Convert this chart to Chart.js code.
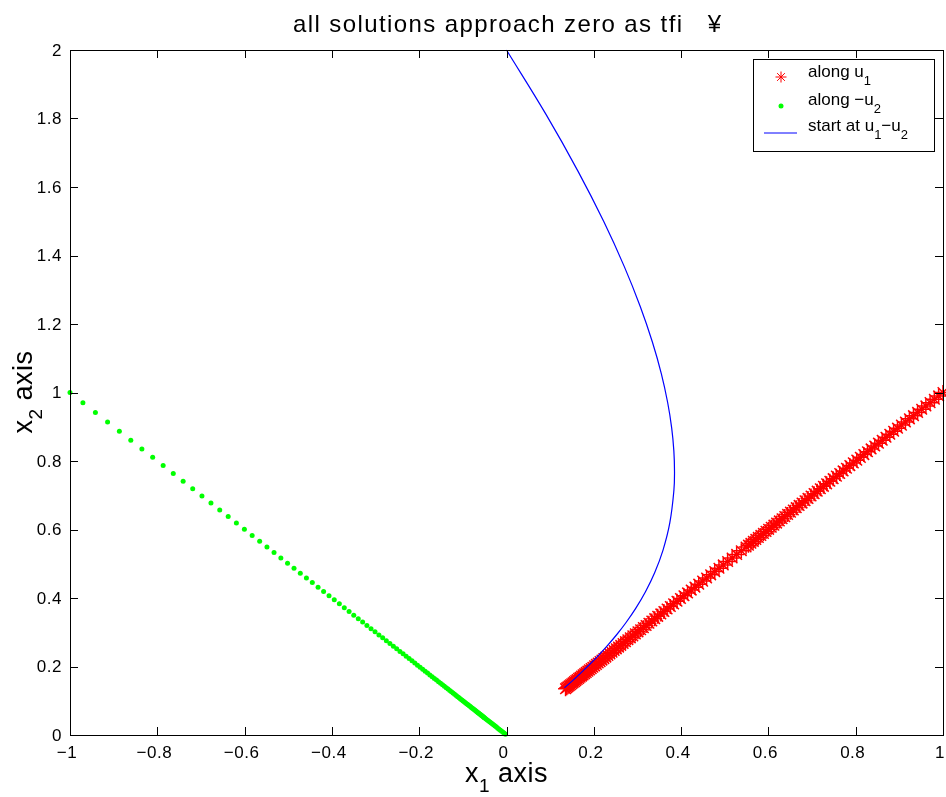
<!DOCTYPE html>
<html>
<head>
<meta charset="utf-8">
<script src="https://cdn.jsdelivr.net/npm/chart.js@4.4.0/dist/chart.umd.min.js"></script>
<style>
  body { margin: 0; background: #fff; }
  canvas { display: block; }
</style>
</head>
<body>
<canvas id="phaseChart" width="946" height="797"></canvas>
<script>
// tick values on both axes
const xTicks = [-1, -0.8, -0.6, -0.4, -0.2, 0, 0.2, 0.4, 0.6, 0.8, 1];
const yTicks = [0, 0.2, 0.4, 0.6, 0.8, 1, 1.2, 1.4, 1.6, 1.8, 2];

// red stars: along u1, x1 = x2
const alongU1 = [
  1.0000, 0.9900, 0.9802, 0.9704, 0.9608, 0.9512, 0.9418, 0.9324, 0.9231, 0.9139,
  0.9048, 0.8958, 0.8869, 0.8781, 0.8694, 0.8607, 0.8521, 0.8437, 0.8353, 0.8270,
  0.8187, 0.8106, 0.8025, 0.7945, 0.7866, 0.7788, 0.7711, 0.7634, 0.7558, 0.7483,
  0.7408, 0.7334, 0.7261, 0.7189, 0.7118, 0.7047, 0.6977, 0.6907, 0.6839, 0.6771,
  0.6703, 0.6637, 0.6570, 0.6505, 0.6440, 0.6376, 0.6313, 0.6250, 0.6188, 0.6126,
  0.6065, 0.6005, 0.5945, 0.5886, 0.5827, 0.5769, 0.5712, 0.5655, 0.5599, 0.5543,
  0.5488, 0.5379, 0.5273, 0.5169, 0.5066, 0.4966, 0.4868, 0.4771, 0.4677, 0.4584,
  0.4493, 0.4404, 0.4317, 0.4232, 0.4148, 0.4066, 0.3985, 0.3906, 0.3829, 0.3753,
  0.3679, 0.3606, 0.3535, 0.3465, 0.3396, 0.3329, 0.3263, 0.3198, 0.3135, 0.3073,
  0.3012, 0.2952, 0.2894, 0.2837, 0.2780, 0.2725, 0.2671, 0.2618, 0.2567, 0.2516,
  0.2466, 0.2417, 0.2369, 0.2322, 0.2276, 0.2231, 0.2187, 0.2144, 0.2101, 0.2060,
  0.2019, 0.1979, 0.1940, 0.1901, 0.1864, 0.1827, 0.1791, 0.1755, 0.1720, 0.1686,
  0.1653, 0.1620, 0.1588, 0.1557, 0.1526, 0.1496, 0.1466, 0.1437, 0.1409, 0.1381,
  0.1353
];

// green dots: along -u2, x1 = -s, x2 = s
const alongMinusU2 = [
  1.0000, 0.9704, 0.9418, 0.9139, 0.8869, 0.8607, 0.8353, 0.8106, 0.7866, 0.7634,
  0.7408, 0.7189, 0.6977, 0.6771, 0.6570, 0.6376, 0.6188, 0.6005, 0.5827, 0.5655,
  0.5488, 0.5326, 0.5169, 0.5016, 0.4868, 0.4724, 0.4584, 0.4449, 0.4317, 0.4190,
  0.4066, 0.3946, 0.3829, 0.3716, 0.3606, 0.3499, 0.3396, 0.3296, 0.3198, 0.3104,
  0.3012, 0.2923, 0.2837, 0.2753, 0.2671, 0.2592, 0.2516, 0.2441, 0.2369, 0.2299,
  0.2231, 0.2165, 0.2101, 0.2039, 0.1979, 0.1920, 0.1864, 0.1809, 0.1755, 0.1703,
  0.1653, 0.1604, 0.1557, 0.1511, 0.1466, 0.1423, 0.1381, 0.1340, 0.1300, 0.1262,
  0.1225, 0.1188, 0.1153, 0.1119, 0.1086, 0.1054, 0.1023, 0.0993, 0.0963, 0.0935,
  0.0907, 0.0880, 0.0854, 0.0829, 0.0805, 0.0781, 0.0758, 0.0735, 0.0714, 0.0693,
  0.0672, 0.0652, 0.0633, 0.0614, 0.0596, 0.0578, 0.0561, 0.0545, 0.0529, 0.0513,
  0.0498, 0.047, 0.044, 0.041, 0.038, 0.035, 0.032, 0.029, 0.026, 0.023,
  0.020, 0.017, 0.014, 0.011, 0.008, 0.005, 0.0025
];

// blue curve: trajectory starting at u1-u2
const startX1 = [0, 0.0905, 0.1640, 0.2231, 0.2699, 0.3064, 0.3342, 0.3548, 0.3691, 0.3784,
  0.3834, 0.3849, 0.3835, 0.3741, 0.3586, 0.3394, 0.3181, 0.2960, 0.2739, 0.2523,
  0.2316, 0.2120, 0.1937, 0.1766, 0.1608, 0.1463, 0.1328];
const startX2 = [2, 1.8119, 1.6456, 1.4983, 1.3675, 1.2512, 1.1474, 1.0546, 0.9715, 0.8968,
  0.8296, 0.7689, 0.7141, 0.6191, 0.5400, 0.4738, 0.4177, 0.3698, 0.3285, 0.2927,
  0.2616, 0.2342, 0.2101, 0.1888, 0.1698, 0.1529, 0.1378];

const FONT = '"Liberation Sans", Arial, Helvetica, sans-serif';

function fmtTick(v) {
  const s = String(Math.round(v * 10) / 10);
  return s.replace('-', '\u2212');
}

// text with subscript parts: parts = [[text, isSub], ...]
function drawRich(ctx, parts, x, y, size, align, subSize, subDrop) {
  let total = 0;
  parts.forEach(p => {
    ctx.font = (p[1] ? subSize : size) + 'px ' + FONT;
    total += ctx.measureText(p[0]).width;
  });
  let cx = align === 'center' ? x - total / 2 : x;
  ctx.textAlign = 'left';
  ctx.textBaseline = 'alphabetic';
  parts.forEach(p => {
    ctx.font = (p[1] ? subSize : size) + 'px ' + FONT;
    ctx.fillText(p[0], cx, p[1] ? y + subDrop : y);
    cx += ctx.measureText(p[0]).width;
  });
}

const matlabFrame = {
  id: 'matlabFrame',
  afterDraw(chart) {
    const ctx = chart.ctx;
    const area = chart.chartArea;
    const xs = chart.scales.x;
    const ys = chart.scales.y;
    ctx.save();
    ctx.fillStyle = '#000';
    ctx.strokeStyle = '#000';
    ctx.lineWidth = 1;

    // box
    ctx.strokeRect(Math.round(area.left) + 0.5, Math.round(area.top) + 0.5,
      Math.round(area.right - area.left), Math.round(area.bottom - area.top));

    // inward ticks on all sides
    const tl = 8;
    ctx.beginPath();
    xTicks.forEach(v => {
      const px = Math.round(xs.getPixelForValue(v)) + 0.5;
      ctx.moveTo(px, area.bottom); ctx.lineTo(px, area.bottom - tl);
      ctx.moveTo(px, area.top); ctx.lineTo(px, area.top + tl);
    });
    yTicks.forEach(v => {
      const py = Math.round(ys.getPixelForValue(v)) + 0.5;
      ctx.moveTo(area.left, py); ctx.lineTo(area.left + tl, py);
      ctx.moveTo(area.right, py); ctx.lineTo(area.right - tl, py);
    });
    ctx.stroke();

    // tick labels
    ctx.font = '17px ' + FONT;
    ctx.letterSpacing = '0.5px';
    ctx.textAlign = 'center';
    ctx.textBaseline = 'alphabetic';
    xTicks.forEach(v => {
      ctx.fillText(fmtTick(v), xs.getPixelForValue(v) - 3, 758);
    });
    ctx.textAlign = 'right';
    ctx.textBaseline = 'middle';
    yTicks.forEach(v => {
      ctx.fillText(fmtTick(v), area.left - 8, ys.getPixelForValue(v) + 1);
    });

    // title
    ctx.font = '24px ' + FONT;
    ctx.letterSpacing = '1.4px';
    ctx.textAlign = 'left';
    ctx.textBaseline = 'alphabetic';
    ctx.fillText('all solutions approach zero as tfi   \u00a5', 293, 32);

    // axis labels
    ctx.letterSpacing = '0.5px';
    drawRich(ctx, [['x', false], ['1', true], [' axis', false]], (area.left + area.right) / 2, 782, 27, 'center', 19, 10);
    ctx.save();
    ctx.translate(32, 392);
    ctx.rotate(-Math.PI / 2);
    drawRich(ctx, [['x', false], ['2', true], [' axis', false]], 0, 0, 27, 'center', 19, 10);
    ctx.restore();

    // legend box
    ctx.letterSpacing = '0px';
    const lx = 753, ly = 59, lw = 181, lh = 92;
    ctx.fillStyle = '#fff';
    ctx.fillRect(lx, ly, lw, lh);
    ctx.strokeRect(lx + 0.5, ly + 0.5, lw, lh);
    ctx.fillStyle = '#000';
    drawRich(ctx, [['along u', false], ['1', true]], 808, 77, 17, 'left', 13, 8);
    drawRich(ctx, [['along \u2212u', false], ['2', true]], 808, 105, 17, 'left', 13, 8);
    drawRich(ctx, [['start at u', false], ['1', true], ['\u2212u', false], ['2', true]], 808, 131, 17, 'left', 13, 8);

    // legend symbols
    ctx.strokeStyle = '#ff0000';
    ctx.beginPath();
    const sx = 781, sy = 77, r = 5.5;
    ctx.moveTo(sx - r, sy); ctx.lineTo(sx + r, sy);
    ctx.moveTo(sx, sy - r); ctx.lineTo(sx, sy + r);
    const d = r * 0.707;
    ctx.moveTo(sx - d, sy - d); ctx.lineTo(sx + d, sy + d);
    ctx.moveTo(sx - d, sy + d); ctx.lineTo(sx + d, sy - d);
    ctx.stroke();
    ctx.fillStyle = '#00ff00';
    ctx.beginPath();
    ctx.arc(781, 106, 2.5, 0, Math.PI * 2);
    ctx.fill();
    ctx.strokeStyle = '#0000ff';
    ctx.beginPath();
    ctx.moveTo(764, 133); ctx.lineTo(797, 133);
    ctx.stroke();
    ctx.restore();
  }
};

const ctx = document.getElementById('phaseChart').getContext('2d');
new Chart(ctx, {
  type: 'scatter',
  data: {
    datasets: [
      {
        label: 'start at u1-u2',
        data: startX1.map((x, i) => ({ x: x, y: startX2[i] })),
        showLine: true,
        borderColor: '#0000ff',
        borderWidth: 1.2,
        pointRadius: 0,
        tension: 0.4,
        clip: false,
        order: 1
      },
      {
        label: 'along -u2',
        data: alongMinusU2.map(s => ({ x: -s, y: s })),
        pointStyle: 'circle',
        pointRadius: 2.5,
        backgroundColor: '#00ff00',
        borderWidth: 0,
        clip: false,
        order: 2
      },
      {
        label: 'along u1',
        data: alongU1.map(s => ({ x: s, y: s })),
        pointStyle: 'star',
        pointRadius: 7.5,
        borderColor: '#ff0000',
        backgroundColor: '#ff0000',
        borderWidth: 1.5,
        clip: false,
        order: 3
      }
    ]
  },
  options: {
    responsive: false,
    animation: false,
    layout: { autoPadding: false, padding: { left: 70, right: 3, top: 50, bottom: 62 } },
    plugins: {
      legend: { display: false },
      tooltip: { enabled: false },
      title: { display: false }
    },
    scales: {
      x: { type: 'linear', min: -1, max: 1, display: false },
      y: { type: 'linear', min: 0, max: 2, display: false }
    }
  },
  plugins: [matlabFrame]
});
</script>
</body>
</html>
